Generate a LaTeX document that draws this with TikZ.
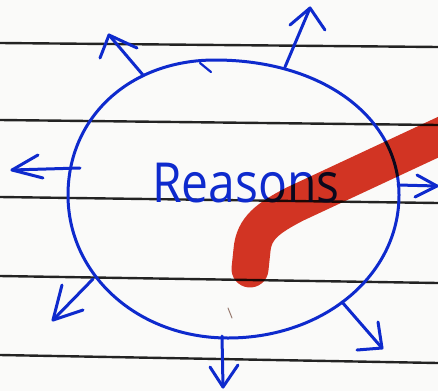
\documentclass[tikz,border=0pt]{standalone}
\usepackage{fontspec}
\newfontfamily\handfont{Open Sans}
\definecolor{ink}{RGB}{14,42,205}
\definecolor{rulegray}{RGB}{35,35,35}
\definecolor{marker}{RGB}{215,54,36}
\definecolor{paper}{RGB}{250,250,249}
\definecolor{stray}{RGB}{150,120,110}
\begin{document}
\begin{tikzpicture}[x=1pt,y=-1pt,
  inkline/.style={draw=ink,line width=3pt,line cap=round,line join=round},
  ruleline/.style={draw=rulegray,line width=2.4pt},
  markerstroke/.style={draw=marker,line width=37pt,line cap=round,blend mode=multiply}]
\useasboundingbox[fill=paper] (0,0) rectangle (438,391);
% ruled lines
\draw[ruleline] (0,43) -- (438,47);
\draw[ruleline] (0,120) -- (438,125);
\draw[ruleline] (0,197) -- (438,203);
\draw[ruleline] (0,276) -- (438,283);
\draw[ruleline] (0,355) -- (438,363);
% circle
\coordinate (ctop) at (215,60);
\coordinate (cright) at (399,195);
\coordinate (cbottom) at (228,338);
\coordinate (cleft) at (68,195);
\draw[inkline] (ctop) .. controls (322,60) and (399,117) .. (cright)
  .. controls (399,275) and (324,338) .. (cbottom)
  .. controls (138,338) and (68,275) .. (cleft)
  .. controls (68,117) and (130,60) .. (ctop) -- cycle;
\draw[inkline,line width=2.2pt] (200,63) -- (211,72);
% arrows
\coordinate (a1s) at (143,75);  \coordinate (a1t) at (109,35);
\coordinate (a2s) at (285,67);  \coordinate (a2t) at (310,8);
\coordinate (a3s) at (80,168);  \coordinate (a3t) at (12,170);
\coordinate (a4s) at (398,185); \coordinate (a4t) at (437,186);
\coordinate (a5s) at (93,279);  \coordinate (a5t) at (53,320);
\coordinate (a6s) at (222,336); \coordinate (a6t) at (223,387);
\coordinate (a7s) at (342,302); \coordinate (a7t) at (382,348);
\draw[inkline] (a1s) -- (a1t); \draw[inkline] (100,58) -- (a1t) -- (137,48);
\draw[inkline] (a2s) -- (a2t); \draw[inkline] (290,25) -- (a2t) -- (325,30);
\draw[inkline] (a3s) -- (a3t); \draw[inkline] (38,155) -- (a3t) -- (43,178);
\draw[inkline] (a4s) -- (a4t); \draw[inkline] (417,175) -- (a4t) -- (415,197);
\draw[inkline] (a5s) -- (a5t); \draw[inkline] (62,285) -- (a5t) -- (83,310);
\draw[inkline] (a6s) -- (a6t); \draw[inkline] (210,367) -- (a6t) -- (238,365);
\draw[inkline] (a7s) -- (a7t); \draw[inkline] (378,322) -- (a7t) -- (357,350);
% stray mark
\draw[draw=stray,line width=1pt,line cap=round] (228,308) -- (232,318);
% label
\node[text=ink,font=\handfont\fontsize{48}{48}\selectfont,inner sep=0pt,
  anchor=base west,yscale=1.15] (label) at (152,202) {Reasons};
% red marker stroke
\draw[markerstroke] (250,269) -- (252,250) .. controls (254,228) and (268,218) .. (295,204) -- (460,127);
\end{tikzpicture}
\end{document}
